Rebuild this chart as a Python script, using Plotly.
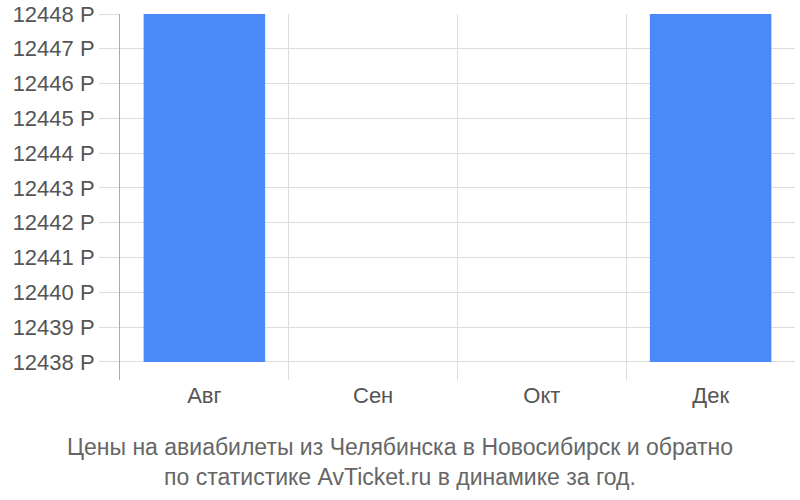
import plotly.graph_objects as go

months = ["Авг", "Сен", "Окт", "Дек"]
prices = [12448, None, None, 12448]
base_price = 12438
y_ticks = list(range(12438, 12449))
y_tick_labels = [f"{v} Р" for v in y_ticks]
title_text = ("Цены на авиабилеты из Челябинска в Новосибирск и обратно<br>"
              "по статистике AvTicket.ru в динамике за год.")

heights = [None if p is None else p - base_price for p in prices]

fig = go.Figure(go.Bar(
    x=months, y=heights, base=base_price,
    marker=dict(color="#4a89f8", line=dict(width=0)),
    width=0.72,
))

fig.update_layout(
    width=800, height=500,
    margin=dict(l=120, r=5, t=14, b=120, autoexpand=False),
    paper_bgcolor="white", plot_bgcolor="white",
    font=dict(family="Liberation Sans, Arial, sans-serif", color="#555555", size=18),
    showlegend=False,
    title=dict(text=title_text, x=0.5, xanchor="center", xref="container",
               y=1 - 455 / 500, yanchor="top", yref="container",
               font=dict(size=23, color="#666666")),
)
fig.update_xaxes(
    type="category", tickson="boundaries", showgrid=True, gridcolor="#dddddd",
    gridwidth=1, showline=False, ticks="", range=[-0.5, 3.5], automargin=False,
    tickfont=dict(size=22, color="#555555"), zeroline=False,
)
fig.update_yaxes(
    range=[12437.48, 12448], tickvals=y_ticks, ticktext=y_tick_labels,
    showgrid=True, gridcolor="#dddddd", gridwidth=1, automargin=False,
    ticks="outside", ticklen=20, tickcolor="#dddddd",
    showline=True, linecolor="#aaaaaa", linewidth=1, zeroline=False,
    tickfont=dict(size=22, color="#555555"),
)

fig.write_html("out.html", config={"displayModeBar": False},
               post_script="document.body.style.margin='0';")
